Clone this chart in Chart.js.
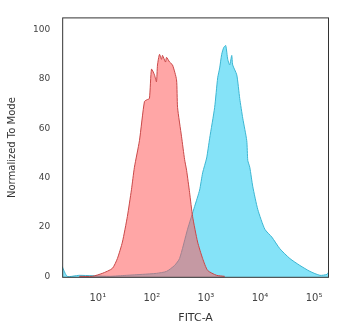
<!DOCTYPE html>
<html lang="en">

<head>
  <meta charset="UTF-8" />
  <title>FITC-A histogram</title>
  <script src="https://cdn.jsdelivr.net/npm/chart.js"></script>
  <style>
    body {
      margin: 0;
      background: #fff;
    }

    #chart-container {
      width: 350px;
      height: 332px;
    }
  </style>
</head>

<body>

  <div id="chart-container">
    <canvas id="histChart" width="350" height="332"></canvas>
  </div>

  <script>
    // x values are in decades (log10 of FITC-A), y is % of mode
    const controlX = [0.657, 0.898, 1.083, 1.269, 1.362, 1.455, 1.547, 1.622, 1.677, 1.770, 1.863, 1.918, 1.955, 1.993, 2.048, 2.085, 2.104, 2.141, 2.178, 2.197, 2.252, 2.271, 2.327, 2.382, 2.456, 2.475, 2.549, 2.605, 2.642, 2.698, 2.753, 2.846, 2.939, 3.031, 3.198, 3.347];
    const controlY = [0, 0, 1.2, 3.2, 7.2, 13.9, 24.3, 35.1, 44.2, 55, 70.9, 71.7, 72.1, 84, 81.7, 78.9, 85.7, 90, 88, 89.6, 86.9, 88.8, 86.9, 85.7, 79.7, 68.5, 56.6, 47.4, 43.0, 33.9, 24.3, 13.9, 7.2, 2.4, 0.4, 0];

    const stainedX = [0.341, 0.434, 0.657, 1.213, 1.529, 1.826, 2.085, 2.271, 2.419, 2.512, 2.660, 2.790, 2.883, 2.939, 3.013, 3.069, 3.161, 3.217, 3.254, 3.291, 3.329, 3.366, 3.403, 3.440, 3.477, 3.495, 3.570, 3.625, 3.681, 3.755, 3.774, 3.811, 3.867, 3.959, 4.089, 4.219, 4.367, 4.553, 4.738, 4.924, 5.109, 5.239, 5.276];
    const stainedY = [4, 0, 0.4, 0, 0.4, 0.8, 1.2, 2.0, 4.4, 7.2, 19.1, 28.3, 35, 42, 48, 56, 68.5, 80.5, 84.5, 90.0, 92.8, 93.6, 88.0, 85.7, 89.6, 85.7, 81.7, 72.1, 64.1, 55.0, 47.0, 44.2, 36.3, 27.1, 19.1, 15.9, 11.2, 7.2, 4.4, 2.0, 0.4, 0.8, 2.0];

    const xTicks = [1, 2, 3, 4, 5];
    const yTicks = [0, 20, 40, 60, 80, 100];
    const sup = { 1: '\u00b9', 2: '\u00b2', 3: '\u00b3', 4: '\u2074', 5: '\u2075' };

    function toPoints(xs, ys) {
      return xs.map((x, i) => ({ x: x, y: ys[i] }));
    }

    // draw the box round the plot area
    const frame = {
      id: 'frame',
      afterDraw(chart) {
        const a = chart.chartArea;
        const ctx = chart.ctx;
        ctx.save();
        ctx.strokeStyle = '#333';
        ctx.lineWidth = 1;
        ctx.strokeRect(a.left + 0.5, a.top + 0.5, a.right - a.left - 1, a.bottom - a.top - 1);
        ctx.restore();
      }
    };

    const ctx = document.getElementById('histChart').getContext('2d');

    new Chart(ctx, {
      type: 'line',
      data: {
        datasets: [
          {
            label: 'Control',
            data: toPoints(controlX, controlY),
            borderColor: '#c94848',
            backgroundColor: 'rgba(255, 85, 85, 0.52)',
            borderWidth: 1,
            fill: 'start',
            tension: 0.2,
            pointRadius: 0
          },
          {
            label: 'Stained',
            data: toPoints(stainedX, stainedY),
            borderColor: '#3cb6d2',
            backgroundColor: 'rgba(0, 196, 240, 0.48)',
            borderWidth: 1,
            fill: 'start',
            tension: 0.2,
            pointRadius: 0
          }
        ]
      },
      options: {
        responsive: false,
        animation: false,
        layout: { padding: { top: 8, right: 21, left: 6, bottom: 5 } },
        plugins: {
          legend: { display: false },
          tooltip: { enabled: false }
        },
        scales: {
          x: {
            type: 'linear',
            min: 0.341,
            max: 5.276,
            grid: { display: false, drawTicks: false },
            border: { display: false },
            afterBuildTicks: axis => { axis.ticks = xTicks.map(v => ({ value: v })); },
            ticks: {
              padding: 15,
              color: '#444',
              font: { family: 'DejaVu Sans', size: 10 },
              maxRotation: 0,
              callback: v => '10' + sup[v]
            },
            title: {
              display: true,
              text: 'FITC-A',
              color: '#333',
              font: { family: 'DejaVu Sans', size: 11 },
              padding: { top: -8, bottom: 2 }
            }
          },
          y: {
            min: -0.6,
            max: 105,
            grid: { display: false, drawTicks: false },
            border: { display: false },
            afterBuildTicks: axis => { axis.ticks = yTicks.map(v => ({ value: v })); },
            ticks: {
              padding: 12,
              color: '#444',
              font: { family: 'DejaVu Sans', size: 9 }
            },
            title: {
              display: true,
              text: 'Normalized To Mode',
              color: '#333',
              font: { family: 'DejaVu Sans', size: 10 },
              padding: { top: 0, bottom: 3 }
            }
          }
        }
      },
      plugins: [frame]
    });
  </script>

</body>

</html>
